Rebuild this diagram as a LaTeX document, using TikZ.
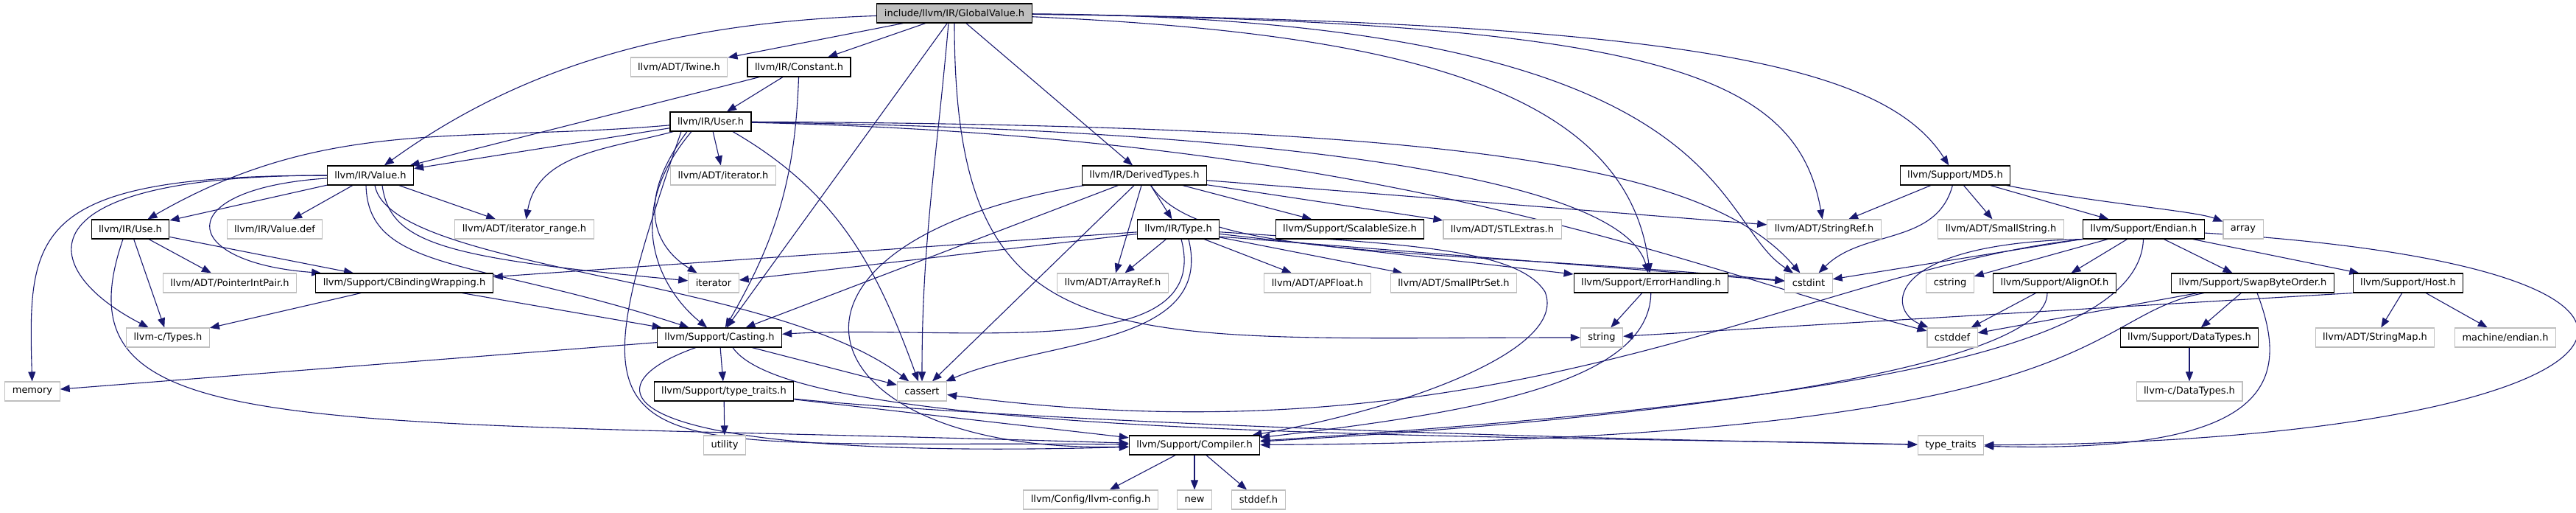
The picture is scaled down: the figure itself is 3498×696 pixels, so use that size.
\documentclass[tikz,border=0pt]{standalone}
\usepackage{fontspec}
\setmainfont{DejaVu Sans}
\usetikzlibrary{arrows.meta,backgrounds}
\definecolor{edgeblue}{RGB}{25,25,112}
\definecolor{framegray}{RGB}{191,191,191}
\tikzset{
    filebox/.style={
        rectangle,
        minimum height=13pt,
        inner xsep=5pt,
        inner ysep=0pt,
        line width=0.55pt,
        fill=white,
        font=\fontsize{6.5}{7.5}\selectfont
    },
    % documented headers get a black frame
    docfile/.style={filebox, draw=black},
    extfile/.style={filebox, draw=framegray},
    rootfile/.style={filebox, draw=black, fill=framegray},
    incl/.style={
        line width=0.55pt,
        edgeblue,
        -{Triangle[length=6.5pt, width=5pt]}
    }
}

\begin{document}
\begin{tikzpicture}[x=0.5pt, y=0.5pt]
    \useasboundingbox (0,0) rectangle (3498,696);

    \node[rootfile] (gv) at (1296,678) {include/llvm/IR/GlobalValue.h};

    \node[extfile] (twine) at (922,605) {llvm/ADT/Twine.h};
    \node[docfile] (constant) at (1085,605) {llvm/IR/Constant.h};

    \node[docfile] (user) at (965,531) {llvm/IR/User.h};

    \node[docfile] (value) at (503,458) {llvm/IR/Value.h};
    \node[extfile] (iterh) at (982,458) {llvm/ADT/iterator.h};
    \node[docfile] (derived) at (1554,458) {llvm/IR/DerivedTypes.h};
    \node[docfile] (md5) at (2655,458) {llvm/Support/MD5.h};

    \node[docfile] (use) at (177,385) {llvm/IR/Use.h};
    \node[extfile] (valuedef) at (373,385) {llvm/IR/Value.def};
    \node[extfile] (itrange) at (712,385) {llvm/ADT/iterator\_range.h};
    \node[docfile] (type) at (1600,385) {llvm/IR/Type.h};
    \node[docfile] (scalable) at (1833,385) {llvm/Support/ScalableSize.h};
    \node[extfile] (stlextras) at (2040,385) {llvm/ADT/STLExtras.h};
    \node[extfile] (stringref) at (2477,385) {llvm/ADT/StringRef.h};
    \node[extfile] (smallstring) at (2717,385) {llvm/ADT/SmallString.h};
    \node[docfile] (endian) at (2911,385) {llvm/Support/Endian.h};
    \node[extfile] (array) at (3046,385) {array};

    \node[extfile] (ptrint) at (312,312) {llvm/ADT/PointerIntPair.h};
    \node[docfile] (cbinding) at (549,312) {llvm/Support/CBindingWrapping.h};
    \node[extfile] (iterator) at (969,312) {iterator};
    \node[extfile] (arrayref) at (1511,312) {llvm/ADT/ArrayRef.h};
    \node[extfile] (apfloat) at (1789,312) {llvm/ADT/APFloat.h};
    \node[extfile] (smallptr) at (1974,312) {llvm/ADT/SmallPtrSet.h};
    \node[docfile] (errh) at (2242,312) {llvm/Support/ErrorHandling.h};
    \node[extfile] (cstdint) at (2456,312) {cstdint};
    \node[extfile] (cstring) at (2648,312) {cstring};
    \node[docfile] (alignof) at (2790,312) {llvm/Support/AlignOf.h};
    \node[docfile] (swap) at (3059,312) {llvm/Support/SwapByteOrder.h};
    \node[docfile] (host) at (3270,312) {llvm/Support/Host.h};

    \node[extfile] (ctypes) at (228,238) {llvm-c/Types.h};
    \node[docfile] (casting) at (977,238) {llvm/Support/Casting.h};
    \node[extfile] (string) at (2175,238) {string};
    \node[extfile] (cstddef) at (2651,238) {cstddef};
    \node[docfile] (datatypes) at (2973,238) {llvm/Support/DataTypes.h};
    \node[extfile] (stringmap) at (3225,238) {llvm/ADT/StringMap.h};
    \node[extfile] (mendian) at (3402,238) {machine/endian.h};

    \node[extfile] (memory) at (44,165) {memory};
    \node[docfile] (typetraitsh) at (983,165) {llvm/Support/type\_traits.h};
    \node[extfile] (cassert) at (1252,165) {cassert};
    \node[extfile] (cdatatypes) at (2973,165) {llvm-c/DataTypes.h};

    \node[extfile] (utility) at (984,92) {utility};
    \node[docfile] (compiler) at (1622,92) {llvm/Support/Compiler.h};
    \node[extfile] (typetraits) at (2649,92) {type\_traits};

    \node[extfile] (config) at (1481,18) {llvm/Config/llvm-config.h};
    \node[extfile] (newhdr) at (1622,18) {new};
    \node[extfile] (stddefh) at (1709,18) {stddef.h};

    \begin{pgfonlayer}{background}
    % GlobalValue.h
    \draw[incl] (gv) .. controls (900,665) and (700,600) .. (value);
    \draw[incl] (gv) -- (twine);
    \draw[incl] (gv) -- (constant);
    \draw[incl] (gv) -- (casting);
    \draw[incl] ([xshift=-4pt]gv.south) to[out=-95,in=90] (cassert);
    \draw[incl] (gv) .. controls (1296,200) and (1500,238) .. (string);
    \draw[incl] (gv) -- (derived);
    \draw[incl] (gv) .. controls (1900,651) and (2210,576) .. (errh);
    \draw[incl] (gv) .. controls (2361,670) and (2320,400) .. (cstdint);
    \draw[incl] (gv) .. controls (2250,666) and (2440,596) .. (stringref);
    \draw[incl] (gv) .. controls (2300,666) and (2560,606) .. (md5);

    % Constant.h
    \draw[incl] (constant) -- (user);
    \draw[incl] (constant) -- (value);
    \draw[incl] (constant) to[out=-92,in=60] (casting);

    % User.h
    \draw[incl] (user) -- (value);
    \draw[incl] (user) to[out=185,in=30] (use);
    \draw[incl] (user) to[out=195,in=80] (itrange);
    \draw[incl] (user) -- (iterh);
    \draw[incl] ([xshift=-16pt]user.south) .. controls (860,420) and (890,360) .. (iterator);
    \draw[incl] ([xshift=-13pt]user.south) .. controls (840,400) and (900,300) .. (casting);
    \draw[incl] ([xshift=-20pt]user.south) .. controls (760,40) and (820,100) .. (compiler);
    \draw[incl] ([xshift=15pt]user.south) to[out=-30,in=110] (cassert);
    \draw[incl] (user) .. controls (1700,521) and (2200,460) .. (errh);
    \draw[incl] (user) .. controls (2000,526) and (2320,470) .. (cstdint);
    \draw[incl] (user) .. controls (1900,510) and (2300,330) .. (cstddef);

    % Value.h
    \draw[incl] (value) -- (use);
    \draw[incl] (value) .. controls (40,458) and (38,380) .. (memory);
    \draw[incl] (value) .. controls (20,458) and (50,330) .. (ctypes);
    \draw[incl] (value) .. controls (230,440) and (240,340) .. ([xshift=4pt]cbinding.north west);
    \draw[incl] (value) -- (valuedef);
    \draw[incl] (value) -- (itrange);
    \draw[incl] ([xshift=-3pt]value.south) .. controls (500,326) and (650,345) .. (casting);
    \draw[incl] ([xshift=3pt]value.south) .. controls (530,330) and (1050,320) .. (cassert);
    \draw[incl] ([xshift=8pt]value.south) .. controls (530,366) and (600,346) .. (iterator);

    % Use.h
    \draw[incl] (use) -- (ptrint);
    \draw[incl] (use) -- (cbinding);
    \draw[incl] (use) -- (ctypes);
    \draw[incl] ([xshift=-5pt]use.south) .. controls (70,90) and (400,130) .. (compiler);

    % CBindingWrapping.h
    \draw[incl] (cbinding) -- (ctypes);
    \draw[incl] (cbinding) -- (casting);

    % DerivedTypes.h
    \draw[incl] (derived) -- (type);
    \draw[incl] (derived) -- (scalable);
    \draw[incl] (derived) -- (stlextras);
    \draw[incl] (derived) -- (stringref);
    \draw[incl] (derived) -- (arrayref);
    \draw[incl] (derived) -- (casting);
    \draw[incl] (derived) -- (cassert);
    \draw[incl] (derived) .. controls (1000,366) and (1080,80) .. (compiler);
    \draw[incl] (derived) .. controls (1630,341) and (1950,361) .. (cstdint);

    % Type.h
    \draw[incl] (type) -- (cbinding);
    \draw[incl] (type) -- (iterator);
    \draw[incl] (type) -- (arrayref);
    \draw[incl] (type) -- (apfloat);
    \draw[incl] (type) -- (smallptr);
    \draw[incl] (type) -- (errh);
    \draw[incl] ([yshift=-5pt]type.east) -- (cstdint);
    \draw[incl] ([xshift=2pt]type.south) .. controls (1650,200) and (1300,256) .. (casting);
    \draw[incl] ([xshift=7pt]type.south) .. controls (1650,226) and (1420,236) .. (cassert);
    \draw[incl] (type) .. controls (1900,365) and (2060,360) .. (2098,300)
        .. controls (2130,220) and (1900,140) .. (compiler);

    % Casting.h
    \draw[incl] (casting) -- (memory);
    \draw[incl] (casting) -- (typetraitsh);
    \draw[incl] ([xshift=22pt]casting.south) -- (cassert);
    \draw[incl] ([xshift=-16pt]casting.south) .. controls (790,170) and (820,70) .. (compiler);
    \draw[incl] ([xshift=9pt]casting.south) .. controls (1080,100) and (2000,106) .. (typetraits);

    % type_traits.h
    \draw[incl] (typetraitsh) -- (utility);
    \draw[incl] (typetraitsh) -- (compiler);
    \draw[incl] (typetraitsh) .. controls (1200,142) and (1700,108) .. (typetraits);

    % Compiler.h
    \draw[incl] (compiler) -- (config);
    \draw[incl] (compiler) -- (newhdr);
    \draw[incl] (compiler) -- (stddefh);

    % ErrorHandling.h
    \draw[incl] (errh) -- (string);
    \draw[incl] (errh) .. controls (2240,176) and (2000,136) .. (compiler);

    % MD5.h
    \draw[incl] (md5) -- (stringref);
    \draw[incl] (md5) -- (smallstring);
    \draw[incl] (md5) -- (endian);
    \draw[incl] (md5) .. controls (2850,420) and (2980,410) .. (array);
    \draw[incl] (md5) to[out=-105,in=45] (cstdint);

    % Endian.h
    \draw[incl] (endian) -- (alignof);
    \draw[incl] (endian) -- (swap);
    \draw[incl] (endian) -- (host);
    \draw[incl] (endian) -- (cstring);
    \draw[incl] (endian) -- (cstdint);
    \draw[incl] (endian.south west) .. controls (2560,366) and (2560,276) .. (cstddef);
    \draw[incl] (endian.south west) .. controls (2450,330) and (2050,60) .. (cassert);
    \draw[incl] (endian) .. controls (2905,220) and (2500,150) .. (compiler);
    \draw[incl] (endian) .. controls (3800,330) and (3600,96) .. (typetraits);

    % SwapByteOrder.h
    \draw[incl] (swap) -- (datatypes);
    \draw[incl] (swap) -- (cstddef);
    \draw[incl] ([xshift=-33pt]swap.south) .. controls (2820,266) and (2880,99) .. (compiler);
    \draw[incl] ([xshift=3pt]swap.south) .. controls (3110,180) and (3090,80) .. (typetraits);

    % AlignOf.h
    \draw[incl] (alignof) -- (cstddef);
    \draw[incl] ([xshift=-5pt]alignof.south) .. controls (2780,200) and (2300,130) .. (compiler);

    % Host.h
    \draw[incl] (host.south west) -- (string);
    \draw[incl] (host) -- (stringmap);
    \draw[incl] (host) -- (mendian);

    % DataTypes.h
    \draw[incl] (datatypes) -- (cdatatypes);
    \end{pgfonlayer}
\end{tikzpicture}
\end{document}
